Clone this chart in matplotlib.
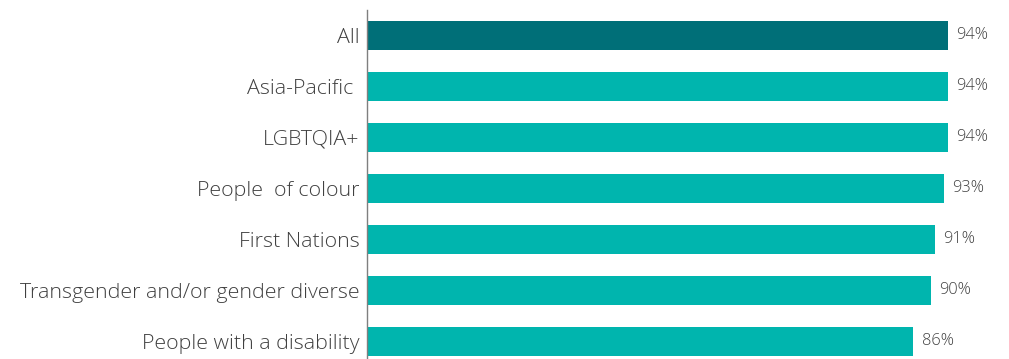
import matplotlib
matplotlib.use("Agg")
import matplotlib.pyplot as plt

categories = ["All", "Asia-Pacific ", "LGBTQIA+", "People  of colour", "First Nations",
              "Transgender and/or gender diverse", "People with a disability"]
values = [94, 94, 94, 93, 91, 90, 86]
value_labels = ["94%", "94%", "94%", "93%", "91%", "90%", "86%"]

base = -40          # value at which the category axis sits
px_per_unit = 4.335 # horizontal scale

plt.rcParams["font.family"] = ["Open Sans", "DejaVu Sans"]

W, H = 1009, 359
fig = plt.figure(figsize=(W / 100, H / 100), dpi=100)
ax_left = 367 / W
ax = fig.add_axes([ax_left, 0, 1 - ax_left, 1 - 10 / H])

colors = ["#006F78"] + ["#00B5AE"] * (len(values) - 1)
ypos = list(range(len(values)))
widths = [v - base for v in values]
ax.barh(ypos, widths, left=base, height=0.57, color=colors, zorder=2)

for y, v, lab in zip(ypos, values, value_labels):
    ax.annotate(lab, (v, y), xytext=(6, 0), textcoords="offset points",
                va="center", ha="left", fontsize=11.8, color="#404040",
                fontweight="light")

ax.set_xlim(base, base + (W - 367) / px_per_unit)
ax.set_ylim(len(values) - 1 + 0.347, -0.5)
ax.set_yticks(ypos)
ax.set_yticklabels(categories, fontsize=15.4, color="#404040", fontweight="light")
ax.tick_params(axis="y", length=0, pad=5.5)
ax.set_xticks([])
for s in ["top", "right", "bottom"]:
    ax.spines[s].set_visible(False)
ax.spines["left"].set_color("#7F7F7F")
ax.spines["left"].set_linewidth(1)
ax.spines["left"].set_zorder(3)

fig.savefig("out.png", dpi=100)
